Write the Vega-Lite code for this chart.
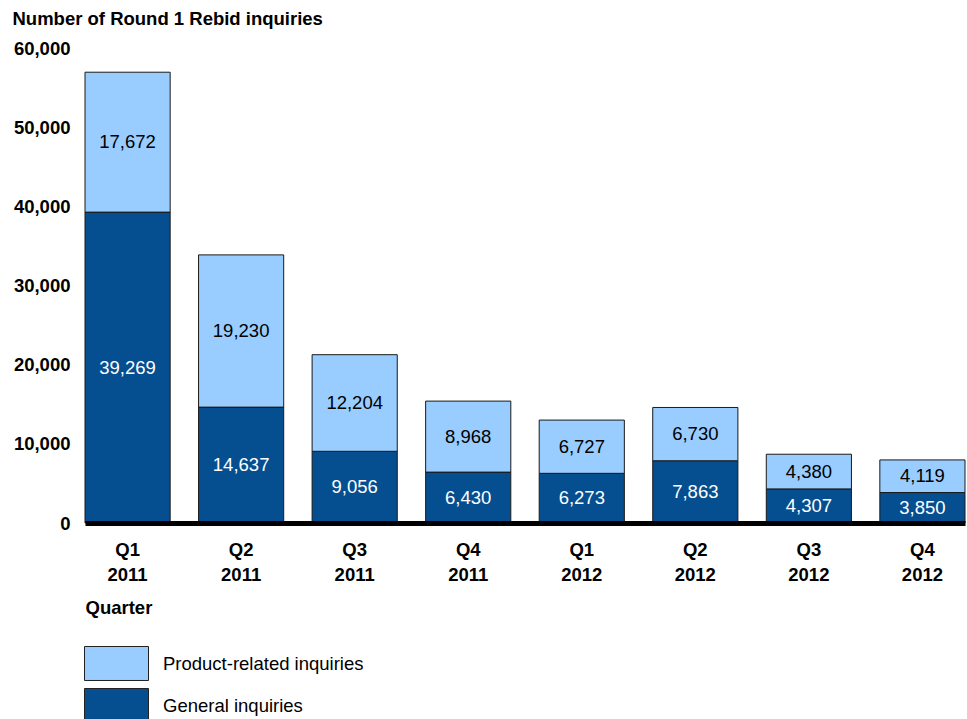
{
  "$schema": "https://vega.github.io/schema/vega-lite/v6.json",
  "width": 880,
  "height": 475,
  "autosize": "none",
  "padding": {"left": 85, "top": 48, "right": 2, "bottom": 196},
  "background": "white",
  "config": {
    "view": {"stroke": null},
    "font": "Liberation Sans"
  },
  "data": {
    "values": [
      {"quarter": "Q1 2011", "type": "General inquiries", "value": 39269},
      {"quarter": "Q1 2011", "type": "Product-related inquiries", "value": 17672},
      {"quarter": "Q2 2011", "type": "General inquiries", "value": 14637},
      {"quarter": "Q2 2011", "type": "Product-related inquiries", "value": 19230},
      {"quarter": "Q3 2011", "type": "General inquiries", "value": 9056},
      {"quarter": "Q3 2011", "type": "Product-related inquiries", "value": 12204},
      {"quarter": "Q4 2011", "type": "General inquiries", "value": 6430},
      {"quarter": "Q4 2011", "type": "Product-related inquiries", "value": 8968},
      {"quarter": "Q1 2012", "type": "General inquiries", "value": 6273},
      {"quarter": "Q1 2012", "type": "Product-related inquiries", "value": 6727},
      {"quarter": "Q2 2012", "type": "General inquiries", "value": 7863},
      {"quarter": "Q2 2012", "type": "Product-related inquiries", "value": 6730},
      {"quarter": "Q3 2012", "type": "General inquiries", "value": 4307},
      {"quarter": "Q3 2012", "type": "Product-related inquiries", "value": 4380},
      {"quarter": "Q4 2012", "type": "General inquiries", "value": 3850},
      {"quarter": "Q4 2012", "type": "Product-related inquiries", "value": 4119}
    ]
  },
  "transform": [
    {"stack": "value", "groupby": ["quarter"], "sort": [{"field": "type", "order": "ascending"}], "as": ["v0", "v1"]},
    {"calculate": "(datum.v0 + datum.v1) / 2", "as": "mid"}
  ],
  "encoding": {
    "x": {
      "field": "quarter",
      "type": "nominal",
      "sort": null,
      "scale": {"paddingInner": 0.25, "paddingOuter": 0},
      "axis": {
        "title": "Quarter",
        "titleFont": "Liberation Sans",
        "titleFontSize": 18.5,
        "titleFontWeight": "bold",
        "titleColor": "black",
        "titleAnchor": "start",
        "titleAlign": "left",
        "titleBaseline": "middle",
        "titleX": 0,
        "titleY": 84,
        "labelExpr": "split(datum.value, ' ')",
        "labelFont": "Liberation Sans",
        "labelFontSize": 18.5,
        "labelFontWeight": "bold",
        "labelColor": "black",
        "labelLineHeight": 25.5,
        "labelAngle": 0,
        "labelPadding": 17,
        "ticks": false,
        "domain": true,
        "domainColor": "black",
        "domainWidth": 5,
        "zindex": 2
      }
    }
  },
  "layer": [
    {
      "mark": {"type": "bar", "stroke": "#1a1a1a", "strokeWidth": 1},
      "encoding": {
        "y": {
          "field": "v0",
          "type": "quantitative",
          "scale": {"domain": [0, 60000]},
          "axis": {
            "values": [0, 10000, 20000, 30000, 40000, 50000, 60000],
            "format": ",.0f",
            "title": "Number of Round 1 Rebid inquiries",
            "titleFont": "Liberation Sans",
            "titleFontSize": 18.5,
            "titleFontWeight": "bold",
            "titleColor": "black",
            "titleAngle": 0,
            "titleAlign": "left",
            "titleBaseline": "middle",
            "titleX": -73,
            "titleY": -30,
            "labelFont": "Liberation Sans",
            "labelFontSize": 18.5,
            "labelFontWeight": "bold",
            "labelColor": "black",
            "labelPadding": 15,
            "ticks": false,
            "domain": false,
            "grid": false
          }
        },
        "y2": {"field": "v1"},
        "color": {
          "field": "type",
          "type": "nominal",
          "scale": {
            "domain": ["General inquiries", "Product-related inquiries"],
            "range": ["#054f91", "#99ccff"]
          },
          "legend": {
            "values": ["Product-related inquiries", "General inquiries"],
            "title": null,
            "orient": "none",
            "legendX": -1,
            "legendY": 597,
            "padding": 0,
            "symbolType": "M-1,-0.944H2.556V0.944H-1Z",
            "symbolSize": 1296,
            "symbolStrokeColor": "#222",
            "symbolStrokeWidth": 1,
            "symbolOpacity": 1,
            "labelFont": "Liberation Sans",
            "labelFontSize": 18.5,
            "labelColor": "black",
            "labelOffset": 42,
            "labelLimit": 400,
            "rowPadding": 3
          }
        }
      }
    },
    {
      "mark": {"type": "text", "fontSize": 18.5, "font": "Liberation Sans", "baseline": "middle"},
      "encoding": {
        "y": {"field": "mid", "type": "quantitative"},
        "text": {"field": "value", "type": "quantitative", "format": ",.0f"},
        "color": {
          "condition": {"test": "datum.type == 'General inquiries'", "value": "white"},
          "value": "black"
        }
      }
    }
  ]
}
